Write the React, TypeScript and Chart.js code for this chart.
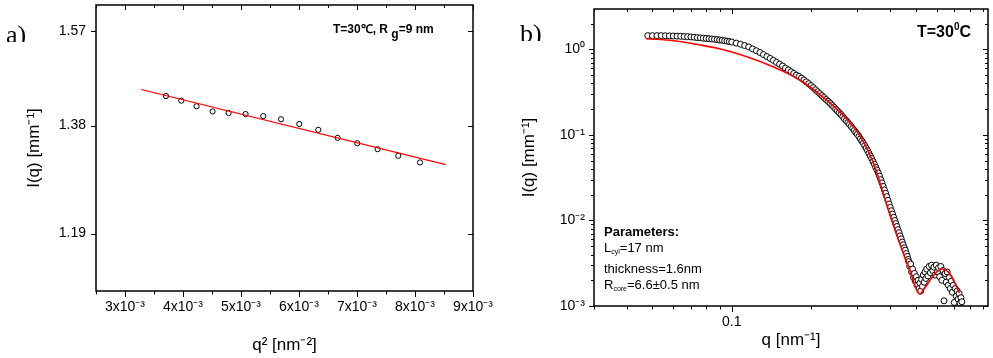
import React, { useEffect, useRef } from 'react';
import { Chart, registerables } from 'chart.js';
Chart.register(...registerables);

const FONT = '"Liberation Sans", Arial, Helvetica, sans-serif';

// ---------------- Panel a) Guinier plot ----------------
const A_Q2 = [3.707e-3, 3.971e-3, 4.234e-3, 4.51e-3, 4.786e-3, 5.079e-3, 5.384e-3, 5.69e-3, 6.005e-3, 6.333e-3, 6.666e-3, 7.005e-3, 7.355e-3, 7.712e-3, 8.086e-3];
const A_I = [1.437, 1.428, 1.417, 1.407, 1.404, 1.402, 1.398, 1.392, 1.383, 1.372, 1.357, 1.347, 1.336, 1.324, 1.312];
const A_FIT_Q2 = [3.28e-3, 8.53e-3];
const A_FIT_I = [1.45, 1.308];
const A_X_RANGE = [2.5e-3, 9e-3];
const A_Y_RANGE = [1.1, 1.628];
const A_X_TICKS = [3e-3, 4e-3, 5e-3, 6e-3, 7e-3, 8e-3, 9e-3];
const A_X_LABELS = ['3x10⁻³', '4x10⁻³', '5x10⁻³', '6x10⁻³', '7x10⁻³', '8x10⁻³', '9x10⁻³'];
const A_X_MINOR = [2.5e-3, 3.5e-3, 4.5e-3, 5.5e-3, 6.5e-3, 7.5e-3, 8.5e-3];
const A_Y_TICKS = [1.19, 1.38, 1.57];
const A_Y_LABELS = ['1.19', '1.38', '1.57'];

// ---------------- Panel b) scattering curve ----------------
const B_Q = [
  0.048, 0.05, 0.052, 0.054, 0.056, 0.058, 0.06, 0.062, 0.064, 0.066, 0.068, 0.07, 0.072, 0.074, 0.076, 0.078, 0.08, 0.082, 0.084, 0.086, 0.088, 0.09, 0.092, 0.094, 0.096, 0.098, 0.1,
  0.104, 0.108, 0.112, 0.116, 0.12, 0.124, 0.128, 0.132, 0.136, 0.14, 0.144, 0.148, 0.152, 0.156, 0.16, 0.164, 0.168, 0.172, 0.176, 0.18,
  0.184, 0.188, 0.192, 0.196, 0.2, 0.204, 0.208, 0.212, 0.216, 0.22, 0.224, 0.228, 0.232, 0.236, 0.24, 0.244, 0.248, 0.252, 0.256, 0.26,
  0.264, 0.268, 0.272, 0.276, 0.28, 0.284, 0.288, 0.292, 0.296, 0.3, 0.304, 0.308, 0.312, 0.316, 0.32, 0.324, 0.328, 0.332, 0.336, 0.34,
  0.344, 0.348, 0.352, 0.356, 0.36, 0.364, 0.368, 0.372, 0.376, 0.38, 0.384, 0.388, 0.392, 0.396, 0.4, 0.404, 0.408, 0.412, 0.416, 0.42,
  0.424, 0.428, 0.432, 0.436, 0.44, 0.444, 0.448, 0.452, 0.456, 0.46, 0.464, 0.468,
  0.47, 0.474, 0.478, 0.482, 0.486, 0.49, 0.494, 0.498, 0.502, 0.506, 0.51, 0.514, 0.518, 0.522, 0.526, 0.53, 0.534, 0.538, 0.542, 0.546,
  0.55, 0.556, 0.562, 0.568, 0.574, 0.58, 0.586, 0.592, 0.598, 0.604, 0.61, 0.616, 0.622, 0.628, 0.634, 0.64, 0.646, 0.652, 0.658, 0.664,
  0.67, 0.676, 0.682, 0.688, 0.694, 0.7, 0.706, 0.712, 0.718, 0.724, 0.73, 0.736, 0.742, 0.748,
];
const B_I = [
  1.45, 1.45, 1.45, 1.45, 1.445, 1.44, 1.435, 1.43, 1.425, 1.415, 1.41, 1.4, 1.39, 1.375, 1.365, 1.355, 1.345, 1.335, 1.325, 1.315, 1.305, 1.29, 1.28, 1.265, 1.25, 1.235, 1.22,
  1.185, 1.15, 1.11, 1.07, 1.015, 0.965, 0.92, 0.87, 0.825, 0.785, 0.745, 0.705, 0.672, 0.64, 0.605, 0.575, 0.548, 0.524, 0.5, 0.483,
  0.462, 0.44, 0.418, 0.398, 0.378, 0.358, 0.338, 0.32, 0.304, 0.288, 0.274, 0.26, 0.248, 0.236, 0.224, 0.212, 0.201, 0.1915, 0.182, 0.173,
  0.164, 0.155, 0.147, 0.14, 0.133, 0.126, 0.119, 0.113, 0.107, 0.102, 0.096, 0.09, 0.085, 0.08, 0.075, 0.07, 0.0655, 0.061, 0.057, 0.053,
  0.049, 0.0455, 0.042, 0.039, 0.036, 0.033, 0.03, 0.0275, 0.025, 0.0228, 0.0208, 0.019, 0.0172, 0.0156, 0.0142, 0.013, 0.0119, 0.0109, 0.01, 0.0092,
  0.0085, 0.0078, 0.0072, 0.0066, 0.0061, 0.0056, 0.0052, 0.0048, 0.0045, 0.0041, 0.0038, 0.0035,
  0.0033, 0.0029, 0.0031, 0.0025, 0.0027, 0.00215, 0.0024, 0.00195, 0.0022, 0.00175, 0.002, 0.0016, 0.00185, 0.0015, 0.00205, 0.0017, 0.0023, 0.0019, 0.0025, 0.0021,
  0.0027, 0.00225, 0.0029, 0.00245, 0.003, 0.0026, 0.00285, 0.0023, 0.003, 0.0025, 0.0028, 0.0022, 0.0029, 0.002, 0.0026, 0.00115, 0.0024, 0.0019, 0.0025, 0.00175,
  0.00215, 0.0016, 0.00195, 0.00145, 0.00175, 0.0011, 0.0016, 0.0013, 0.0015, 0.0012, 0.0014, 0.00108, 0.00125, 0.00112,
];
const B_FIT_Q = [0.0473, 0.0603, 0.0749, 0.0931, 0.1156, 0.1436, 0.1782, 0.212, 0.2521, 0.2999, 0.3415, 0.3788, 0.4169, 0.4467, 0.4746, 0.4956, 0.5163, 0.5405, 0.5743, 0.6048, 0.6316, 0.6653, 0.7008, 0.7318];
const B_FIT_I = [1.335, 1.264, 1.135, 0.992, 0.81, 0.627, 0.454, 0.311, 0.197, 0.1087, 0.0511, 0.01935, 0.00774, 0.00428, 0.00263, 0.00176, 0.00138, 0.00162, 0.00212, 0.00256, 0.00271, 0.00249, 0.0019, 0.00142];
const B_X_RANGE = [0.03, 0.94];
const B_Y_RANGE = [0.001, 2.97];
const B_X_TICKS = [0.1];
const B_X_LABELS = ['0.1'];
const B_X_MINOR = [0.03, 0.04, 0.05, 0.06, 0.07, 0.08, 0.09, 0.2, 0.3, 0.4, 0.5, 0.6, 0.7, 0.8, 0.9];
const B_Y_TICKS = [0.001, 0.01, 0.1, 1];
const B_Y_LABELS = ['10⁻³', '10⁻²', '10⁻¹', '10⁰'];
const B_Y_MINOR = [0.002, 0.003, 0.004, 0.005, 0.006, 0.007, 0.008, 0.009, 0.02, 0.03, 0.04, 0.05, 0.06, 0.07, 0.08, 0.09, 0.2, 0.3, 0.4, 0.5, 0.6, 0.7, 0.8, 0.9, 2];

type Drawer = (ctx: CanvasRenderingContext2D, a: any) => void;

function decorPlugin(id: string, xMajor: number[], xMinor: number[], yMajor: number[], yMinor: number[], drawText: Drawer) {
  return {
    id,
    afterDraw(chart: any) {
      const { ctx, chartArea: a } = chart;
      const xs = chart.scales.x;
      const ys = chart.scales.y;
      ctx.save();
      ctx.strokeStyle = '#000';
      ctx.lineWidth = 1;
      const seg = (x1: number, y1: number, x2: number, y2: number) => {
        ctx.beginPath();
        ctx.moveTo(x1, y1);
        ctx.lineTo(x2, y2);
        ctx.stroke();
      };
      const doX = (list: number[], out: number, inn: number) => {
        list.forEach((v) => {
          const p = Math.round(xs.getPixelForValue(v)) + 0.5;
          if (p < a.left - 1 || p > a.right + 1) return;
          seg(p, a.bottom, p, a.bottom + out);
          seg(p, a.top, p, a.top + inn);
        });
      };
      const doY = (list: number[], out: number, inn: number) => {
        list.forEach((v) => {
          const p = Math.round(ys.getPixelForValue(v)) + 0.5;
          if (p < a.top - 1 || p > a.bottom + 1) return;
          seg(a.left - out, p, a.left, p);
          seg(a.right, p, a.right - inn, p);
        });
      };
      doX(xMajor, 6, 5);
      doX(xMinor, 3.5, 3);
      doY(yMajor, 5, 5);
      doY(yMinor, 3, 3);
      ctx.lineWidth = 1.5;
      ctx.strokeRect(a.left, a.top, a.right - a.left, a.bottom - a.top);
      ctx.fillStyle = '#000';
      ctx.textBaseline = 'alphabetic';
      ctx.textAlign = 'left';
      drawText(ctx, a);
      ctx.restore();
    },
  };
}

const drawA: Drawer = (ctx, a) => {
  let x = a.right - 140;
  const y = a.top + 28;
  ctx.font = `bold 12px ${FONT}`;
  const s1 = 'T=30℃, R ';
  ctx.fillText(s1, x, y);
  x += ctx.measureText(s1).width;
  ctx.fillText('g', x, y + 5);
  x += ctx.measureText('g').width;
  ctx.fillText('=9 nm', x, y);
};

const drawB: Drawer = (ctx, a) => {
  let x = a.right - 71;
  const y = a.top + 28;
  ctx.font = `bold 16px ${FONT}`;
  ctx.fillText('T=30', x, y);
  x += ctx.measureText('T=30').width;
  ctx.font = `bold 10px ${FONT}`;
  ctx.fillText('0', x, y - 7);
  x += ctx.measureText('0').width;
  ctx.font = `bold 16px ${FONT}`;
  ctx.fillText('C', x, y);

  const lx = a.left + 10;
  ctx.font = `bold 13px ${FONT}`;
  ctx.fillText('Parameters:', lx, a.bottom - 70);
  let px = lx;
  let py = a.bottom - 54;
  ctx.font = `13px ${FONT}`;
  ctx.fillText('L', px, py);
  px += ctx.measureText('L').width;
  ctx.font = `7px ${FONT}`;
  ctx.fillText('cyl', px, py + 2);
  px += ctx.measureText('cyl').width;
  ctx.font = `13px ${FONT}`;
  ctx.fillText('=17 nm', px, py);
  ctx.fillText('thickness=1.6nm', lx, a.bottom - 33);
  px = lx;
  py = a.bottom - 17;
  ctx.fillText('R', px, py);
  px += ctx.measureText('R').width;
  ctx.font = `7px ${FONT}`;
  ctx.fillText('core', px, py + 2);
  px += ctx.measureText('core').width;
  ctx.font = `13px ${FONT}`;
  ctx.fillText('=6.6±0.5 nm', px, py);
};

const tickFont = { family: FONT, size: 14 };
const titleFont = { family: FONT, size: 17 };

function pairs(xs: number[], ys: number[]) {
  return xs.map((x, i) => ({ x, y: ys[i] }));
}

const fitX = (h: number) => (s: any) => {
  s.height = h;
  s.paddingLeft = 0;
  s.paddingRight = 0;
  s.paddingTop = 0;
  s.paddingBottom = 0;
};
const fitY = (w: number) => (s: any) => {
  s.width = w;
  s.paddingLeft = 0;
  s.paddingRight = 0;
  s.paddingTop = 0;
  s.paddingBottom = 0;
};

function makeConfigA(): any {
  return {
    type: 'scatter',
    data: {
      datasets: [
        {
          data: pairs(A_FIT_Q2, A_FIT_I),
          showLine: true,
          borderColor: '#ff0000',
          borderWidth: 1.2,
          pointRadius: 0,
        },
        {
          data: pairs(A_Q2, A_I),
          showLine: false,
          pointRadius: 2.6,
          pointBorderWidth: 1,
          pointBorderColor: '#000',
          pointBackgroundColor: '#fff',
        },
      ],
    },
    options: {
      responsive: false,
      animation: false,
      devicePixelRatio: 1,
      layout: { padding: { left: 0, right: 27, top: 5, bottom: 0 } },
      plugins: { legend: { display: false }, tooltip: { enabled: false } },
      scales: {
        x: {
          type: 'linear',
          min: A_X_RANGE[0],
          max: A_X_RANGE[1],
          grid: { display: false, drawTicks: false },
          border: { display: false },
          afterBuildTicks: (s: any) => { s.ticks = A_X_TICKS.map((v) => ({ value: v })); },
          afterFit: fitX(67),
          ticks: {
            autoSkip: false,
            maxRotation: 0,
            padding: 8,
            color: '#000',
            font: tickFont,
            callback: (v: number) => A_X_LABELS[A_X_TICKS.findIndex((t) => Math.abs(t - v) < 1e-9)] ?? '',
          },
          title: { display: true, text: 'q² [nm⁻²]', color: '#000', font: titleFont, padding: { top: 0, bottom: 2 } },
        },
        y: {
          type: 'logarithmic',
          min: A_Y_RANGE[0],
          max: A_Y_RANGE[1],
          grid: { display: false, drawTicks: false },
          border: { display: false },
          afterBuildTicks: (s: any) => { s.ticks = A_Y_TICKS.map((v) => ({ value: v })); },
          afterFit: fitY(96),
          ticks: {
            autoSkip: false,
            padding: 10,
            color: '#000',
            font: tickFont,
            callback: (v: number) => A_Y_LABELS[A_Y_TICKS.findIndex((t) => Math.abs(t - v) < 1e-9)] ?? '',
          },
          title: { display: true, text: 'I(q) [mm⁻¹]', color: '#000', font: titleFont, padding: { top: 24, bottom: 0 } },
        },
      },
    },
    plugins: [decorPlugin('decorA', A_X_TICKS, A_X_MINOR, A_Y_TICKS, [], drawA)],
  };
}

function makeConfigB(): any {
  return {
    type: 'scatter',
    data: {
      datasets: [
        {
          data: pairs(B_FIT_Q, B_FIT_I),
          showLine: true,
          borderColor: '#ff0000',
          borderWidth: 1.6,
          pointRadius: 0,
          tension: 0.35,
        },
        {
          data: pairs(B_Q, B_I),
          showLine: false,
          pointRadius: 3,
          pointBorderWidth: 1,
          pointBorderColor: '#000',
          pointBackgroundColor: '#fff',
        },
      ],
    },
    options: {
      responsive: false,
      animation: false,
      devicePixelRatio: 1,
      layout: { padding: { left: 0, right: 1, top: 9, bottom: 0 } },
      plugins: { legend: { display: false }, tooltip: { enabled: false } },
      scales: {
        x: {
          type: 'logarithmic',
          min: B_X_RANGE[0],
          max: B_X_RANGE[1],
          grid: { display: false, drawTicks: false },
          border: { display: false },
          afterBuildTicks: (s: any) => { s.ticks = B_X_TICKS.map((v) => ({ value: v })); },
          afterFit: fitX(52),
          ticks: {
            autoSkip: false,
            maxRotation: 0,
            padding: 8,
            color: '#000',
            font: tickFont,
            callback: (v: number) => B_X_LABELS[B_X_TICKS.findIndex((t) => Math.abs(t - v) < 1e-9)] ?? '',
          },
          title: { display: true, text: 'q [nm⁻¹]', color: '#000', font: titleFont, padding: { top: 0, bottom: 7 } },
        },
        y: {
          type: 'logarithmic',
          min: B_Y_RANGE[0],
          max: B_Y_RANGE[1],
          grid: { display: false, drawTicks: false },
          border: { display: false },
          afterBuildTicks: (s: any) => { s.ticks = B_Y_TICKS.map((v) => ({ value: v })); },
          afterFit: fitY(94),
          ticks: {
            autoSkip: false,
            padding: 9,
            color: '#000',
            font: tickFont,
            callback: (v: number) => B_Y_LABELS[B_Y_TICKS.findIndex((t) => Math.abs(t - v) < 1e-12)] ?? '',
          },
          title: { display: true, text: 'I(q) [mm⁻¹]', color: '#000', font: titleFont, padding: { top: 19, bottom: 0 } },
        },
      },
    },
    plugins: [decorPlugin('decorB', B_X_TICKS, B_X_MINOR, B_Y_TICKS, B_Y_MINOR, drawB)],
  };
}

export default function App() {
  const aRef = useRef<HTMLCanvasElement>(null);
  const bRef = useRef<HTMLCanvasElement>(null);
  useEffect(() => {
    const ca = new Chart(aRef.current as HTMLCanvasElement, makeConfigA());
    const cb = new Chart(bRef.current as HTMLCanvasElement, makeConfigB());
    return () => {
      ca.destroy();
      cb.destroy();
    };
  }, []);
  const labelStyle: React.CSSProperties = {
    position: 'absolute',
    overflow: 'hidden',
    font: '26px "Liberation Serif", "Times New Roman", serif',
    lineHeight: '26px',
    color: '#000',
    whiteSpace: 'nowrap',
  };
  return (
    <div style={{ position: 'fixed', left: 0, top: 0, width: 993, height: 358, background: '#fff', overflow: 'hidden' }}>
      <canvas ref={aRef} width={500} height={358} style={{ position: 'absolute', left: 0, top: 0, width: 500, height: 358 }} />
      <canvas ref={bRef} width={493} height={358} style={{ position: 'absolute', left: 500, top: 0, width: 493, height: 358 }} />
      <div style={{ ...labelStyle, left: 6, top: 22, height: 20 }}>a)</div>
      <div style={{ ...labelStyle, left: 520, top: 21, height: 20 }}>b)</div>
    </div>
  );
}
